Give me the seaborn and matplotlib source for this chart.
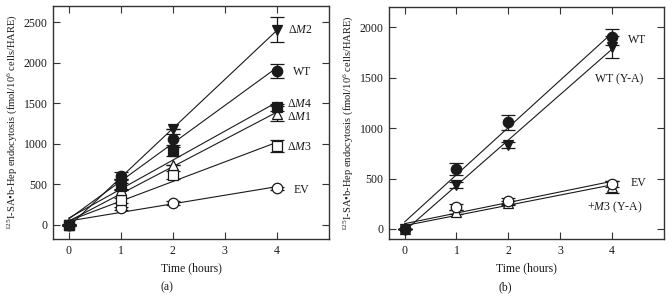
import matplotlib
matplotlib.use('Agg')
import matplotlib.pyplot as plt
import numpy as np
import pandas as pd
import seaborn as sns

# time points (hours)
hours = [0, 1, 2, 4]

# panel (a): series values and error bars
wt_a = [0, 600, 1055, 1900]
wt_a_err = [15, 50, 70, 85]
dm2_a = [0, 560, 1180, 2410]
dm2_a_err = [0, 0, 0, 150]
dm4_a = [0, 480, 905, 1450]
dm4_a_err = [0, 40, 55, 40]
dm1_a = [0, 430, 735, 1370]
dm1_a_err = [0, 0, 0, 90]
dm3_a = [0, 305, 615, 975]
dm3_a_err = [0, 30, 50, 75]
ev_a = [0, 205, 275, 450]
ev_a_err = [0, 20, 25, 20]

# panel (b)
wt_b = [0, 595, 1060, 1905]
wt_b_err = [0, 60, 75, 80]
wtya_b = [0, 440, 830, 1810]
wtya_b_err = [0, 30, 30, 110]
ev_b = [0, 215, 280, 450]
ev_b_err = [0, 30, 30, 30]
m3ya_b = [0, 165, 255, 420]
m3ya_b_err = [0, 20, 20, 60]

sns.set_style('ticks')
plt.rcParams['font.family'] = ['Liberation Serif', 'DejaVu Serif']
plt.rcParams['mathtext.fontset'] = 'custom'
plt.rcParams['mathtext.rm'] = 'Liberation Serif'
plt.rcParams['mathtext.it'] = 'Liberation Serif:italic'
plt.rcParams['axes.edgecolor'] = '#333333'
plt.rcParams['axes.linewidth'] = 1.0

INK = '#1a1a1a'
FS = 8.5


def draw_series(ax, y, err, marker, filled, size=7.5):
    df = pd.DataFrame({'t': hours, 'v': y})
    sns.regplot(x='t', y='v', data=df, ax=ax, scatter=False, ci=None,
                truncate=True, color=INK, line_kws={'lw': 0.8, 'zorder': 2})
    ax.errorbar(hours, y, yerr=err, fmt=marker, ms=size, mfc=INK if filled else 'white',
                mec=INK, mew=0.9, ecolor=INK, elinewidth=0.9, capsize=5, capthick=0.9,
                zorder=3)


def style_axes(ax, ylim, yticks):
    ax.set_xlim(-0.3, 5)
    ax.set_ylim(*ylim)
    ax.set_xticks([0, 1, 2, 3, 4])
    ax.set_yticks(yticks)
    ax.tick_params(direction='in', length=5, width=0.8, labelsize=FS, colors='#333333',
                   labelcolor='#1a1a1a', top=True, right=True, pad=4)
    for s in ax.spines.values():
        s.set_visible(True)
    ax.set_xlabel('Time (hours)', fontsize=FS, color=INK, labelpad=4)
    ax.set_ylabel(r'$^{125}$I-SA•b-Hep endocytosis (fmol/10$^{6}$ cells/HARE)',
                  fontsize=7.6, color=INK, labelpad=3)


fig = plt.figure(figsize=(6.72, 2.97), dpi=100)
ax_a = fig.add_axes([0.0789, 0.1953, 0.4107, 0.7845])
ax_b = fig.add_axes([0.5789, 0.1953, 0.4092, 0.7800])

# panel (a)
draw_series(ax_a, ev_a, ev_a_err, 'o', False)
draw_series(ax_a, dm3_a, dm3_a_err, 's', False)
draw_series(ax_a, dm1_a, dm1_a_err, '^', False)
draw_series(ax_a, dm4_a, dm4_a_err, 's', True)
draw_series(ax_a, wt_a, wt_a_err, 'o', True)
draw_series(ax_a, dm2_a, dm2_a_err, 'v', True)
style_axes(ax_a, (-175, 2700), [0, 500, 1000, 1500, 2000, 2500])

lab = dict(fontsize=FS, color=INK, va='center', ha='left')
ax_a.text(4.22, 2400, r'$\Delta M$2', **lab)
ax_a.text(4.3, 1890, 'WT', **lab)
ax_a.text(4.19, 1490, r'$\Delta M$4', **lab)
ax_a.text(4.19, 1330, r'$\Delta M$1', **lab)
ax_a.text(4.19, 960, r'$\Delta M$3', **lab)
ax_a.text(4.32, 430, 'EV', **lab)

# panel (b)
draw_series(ax_b, m3ya_b, m3ya_b_err, '^', False)
draw_series(ax_b, ev_b, ev_b_err, 'o', False)
draw_series(ax_b, wtya_b, wtya_b_err, 'v', True)
draw_series(ax_b, wt_b, wt_b_err, 'o', True)
style_axes(ax_b, (-100, 2200), [0, 500, 1000, 1500, 2000])

ax_b.text(4.31, 1880, 'WT', **lab)
ax_b.text(3.67, 1490, 'WT (Y-A)', **lab)
ax_b.text(4.35, 455, 'EV', **lab)
ax_b.text(3.52, 215, r'+$M$3 (Y-A)', **lab)

fig.text(0.2485, 0.034, '(a)', fontsize=FS, color=INK, ha='center', va='center')
fig.text(0.7515, 0.034, '(b)', fontsize=FS, color=INK, ha='center', va='center')

fig.savefig('out.png', dpi=100)
